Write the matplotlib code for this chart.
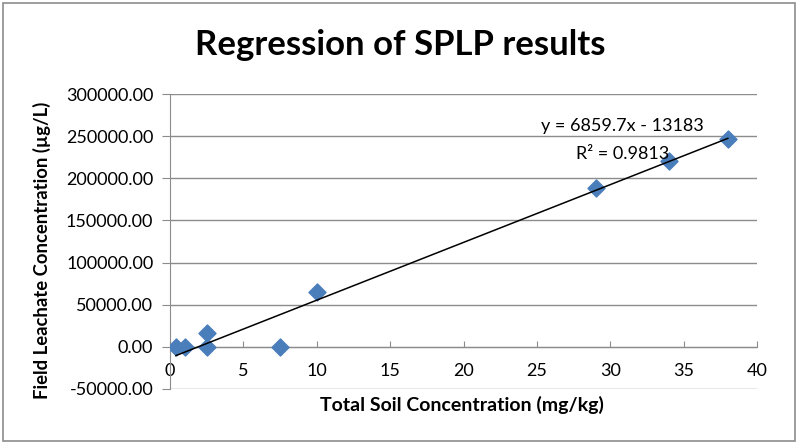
import numpy as np
import matplotlib.pyplot as plt

# data
soil_conc = [0.4, 1.0, 2.5, 2.5, 7.5, 10.0, 29.0, 34.0, 38.0]
leachate_conc = [0, 0, 17000, 0, 0, 65000, 189000, 221000, 247000]
slope = 6859.7
intercept = -13183
r_squared = 0.9813
x_ticks = [0, 5, 10, 15, 20, 25, 30, 35, 40]
y_ticks = [-50000, 0, 50000, 100000, 150000, 200000, 250000, 300000]

plt.rcParams['font.family'] = ['Lato', 'DejaVu Sans']

fig = plt.figure(figsize=(8, 4.44), dpi=100)
# outer gray frame like the Excel chart area
fig.patches.append(plt.Rectangle((0.004, 0.007), 0.99, 0.986, transform=fig.transFigure,
                                 fill=False, edgecolor='#8c8c8c', linewidth=1.2))

ax = fig.add_axes([0.2125, 0.124, 0.734, 0.664])

ax.scatter(soil_conc, leachate_conc, marker='D', s=75, color='#4A7EBB', zorder=3)

# linear trendline over data range
xs = np.array([min(soil_conc), max(soil_conc)])
ax.plot(xs, slope * xs + intercept, color='black', linewidth=1.1, zorder=4)

ax.set_xlim(0, 40)
ax.set_ylim(-50000, 300000)
ax.set_xticks(x_ticks)
ax.set_yticks(y_ticks)
ax.set_yticklabels([f'{v:.2f}' for v in y_ticks])
ax.yaxis.grid(True, color='#8c8c8c', linewidth=1)
ax.set_axisbelow(True)

for s in ['top', 'right']:
    ax.spines[s].set_visible(False)
ax.spines['bottom'].set_position(('data', 0))
ax.spines['bottom'].set_color('#8c8c8c')
ax.spines['left'].set_color('#8c8c8c')
ax.tick_params(axis='x', direction='in', length=4, color='#8c8c8c', labelsize=13, pad=12)
ax.tick_params(axis='y', direction='out', length=6, color='#8c8c8c', labelsize=13, pad=6)

ax.set_xlabel('Total Soil Concentration (mg/kg)', fontsize=14, fontweight='bold', va='center')
ax.xaxis.set_label_coords(0.498, -0.054)
ax.set_ylabel('Field Leachate Concentration (µg/L)', fontsize=13.3, fontweight='bold', va='center')
ax.yaxis.set_label_coords(-0.218, 0.47)

fig.text(0.5, 0.898, 'Regression of SPLP results', ha='center', va='center',
         fontsize=25, fontweight='bold')

ax.text(30.8, 262400, f'y = {slope}x - {abs(intercept)}', ha='center', va='center', fontsize=13)
ax.text(30.8, 229300, f'R² = {r_squared}', ha='center', va='center', fontsize=13)

fig.savefig('out.png', dpi=100)
